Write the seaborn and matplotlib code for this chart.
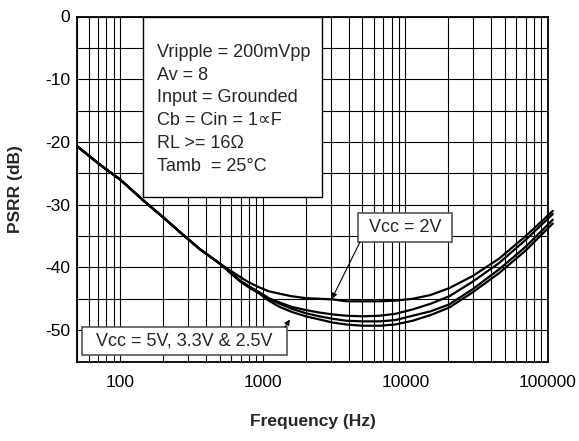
import matplotlib
matplotlib.use("Agg")
import matplotlib.pyplot as plt
import matplotlib.ticker as mticker
from matplotlib.patches import Rectangle
import numpy as np
import pandas as pd
import seaborn as sns

# ---------------- data ----------------
freq = [50, 70, 100, 150, 200, 263, 362, 500, 600, 690, 800, 950, 1100, 1315, 1600,
        2000, 2500, 3100, 3850, 5000, 6600, 8500, 11250, 15000, 20300, 29500,
        45400, 69800, 108000]
common = [-20.7, -23.4, -26.0, -29.6, -32.0, -34.4, -37.1, -39.4]
vcc_2v  = common + [-40.6, -41.5, -42.4, -43.2, -43.8, -44.2, -44.6,
                    -44.9, -45.0, -45.1, -45.4, -45.4, -45.4, -45.3, -45.0, -44.4,
                    -43.3, -41.4, -38.6, -35.0, -31.0]
vcc_5v  = common + [-40.9, -42.1, -43.0, -44.0, -44.9, -45.6, -46.3,
                    -46.8, -47.2, -47.5, -47.7, -47.8, -47.7, -47.4, -46.7, -45.8,
                    -44.6, -42.3, -39.3, -35.6, -31.5]
vcc_3v3 = common + [-40.9, -42.1, -43.1, -44.1, -45.0, -45.8, -46.6,
                    -47.3, -47.8, -48.2, -48.5, -48.6, -48.6, -48.4, -47.7, -47.0,
                    -45.9, -43.5, -40.3, -36.7, -32.4]
vcc_2v5 = common + [-41.0, -42.2, -43.2, -44.2, -45.3, -46.3, -47.1,
                    -47.8, -48.3, -48.8, -49.1, -49.3, -49.3, -49.1, -48.5, -47.6,
                    -46.4, -44.0, -40.9, -37.3, -33.0]
series_names = ["Vcc = 2V", "Vcc = 5V", "Vcc = 3.3V", "Vcc = 2.5V"]
series_vals = [vcc_2v, vcc_5v, vcc_3v3, vcc_2v5]

x_ticks = [100, 1000, 10000, 100000]
x_tick_labels = ["100", "1000", "10000", "100000"]
y_ticks = [0, -10, -20, -30, -40, -50]

info_lines = ["Vripple = 200mVpp", "Av = 8", "Input = Grounded",
              "Cb = Cin = 1\u221dF", "RL >= 16\u03a9", "Tamb  = 25\u00b0C"]

df = pd.DataFrame({
    "freq": np.tile(freq, len(series_names)),
    "psrr": np.concatenate(series_vals),
    "series": np.repeat(series_names, len(freq)),
})

# ---------------- style ----------------
sns.set_style("white")
plt.rcParams["font.family"] = ["Liberation Sans", "DejaVu Sans"]

W, H = 579, 441
fig = plt.figure(figsize=(W / 100, H / 100), dpi=100)
L, R, T, B = 77.3, 548.0, 16.5, 361.5
ax = fig.add_axes([L / W, 1 - B / H, (R - L) / W, (B - T) / H])

sns.lineplot(data=df, x="freq", y="psrr", hue="series",
             palette={n: "black" for n in series_names},
             estimator=None, sort=False, legend=False, lw=1.6, ax=ax,
             zorder=3, clip_on=False)

ax.set_xscale("log")
ax.set_xlim(50, 100000)
ax.set_ylim(-55, 0)
ax.set_xticks(x_ticks)
ax.set_xticklabels(x_tick_labels)
ax.xaxis.set_minor_locator(mticker.LogLocator(base=10, subs=np.arange(2, 10)))
ax.xaxis.set_minor_formatter(mticker.NullFormatter())
ax.set_yticks(y_ticks)
ax.set_yticklabels([str(v) for v in y_ticks])
ax.yaxis.set_minor_locator(mticker.MultipleLocator(5))

ax.grid(True, which="both", color="black", lw=0.8)
ax.set_axisbelow(True)
ax.tick_params(which="both", direction="in", length=4, width=1,
               labelsize=12.5, colors="black")
ax.tick_params(axis="x", pad=10)
ax.tick_params(axis="y", pad=5)
for s in ax.spines.values():
    s.set_color("black")
    s.set_linewidth(1.3)

ax.set_xlabel("Frequency (Hz)", fontsize=12.5, fontweight="bold", labelpad=17)
ax.set_ylabel("PSRR (dB)", fontsize=12.5, fontweight="bold", labelpad=16)

def ax_x(px):
    return (px - L) / (R - L)

def ax_y(py):
    return (B - py) / (B - T)

# info box
ax.add_patch(Rectangle((ax_x(143), ax_y(197)), ax_x(322) - ax_x(143),
                       ax_y(T) - ax_y(197), transform=ax.transAxes,
                       facecolor="white", edgecolor="black", lw=1.0, zorder=5))
baselines = [56.7, 79.5, 102.3, 125.1, 147.9, 170.7]
for txt, by in zip(info_lines, baselines):
    ax.text(ax_x(157), ax_y(by), txt, transform=ax.transAxes, fontsize=13,
            va="baseline", ha="left", zorder=6)

# Vcc = 2V label
ax.add_patch(Rectangle((ax_x(358), ax_y(242)), ax_x(452) - ax_x(358),
                       ax_y(213) - ax_y(242), transform=ax.transAxes,
                       facecolor="white", edgecolor="#555555", lw=1.2, zorder=5))
ax.text(ax_x(405), ax_y(227.5), "Vcc = 2V", transform=ax.transAxes, fontsize=13,
        ha="center", va="center", zorder=6)
ax.annotate("", xy=(3050, -45.0), xycoords="data",
            xytext=(ax_x(360), ax_y(242)), textcoords="axes fraction",
            arrowprops=dict(arrowstyle="-|>", color="black", lw=0.8,
                            mutation_scale=8, shrinkA=0, shrinkB=0), zorder=6)

# Vcc = 5V, 3.3V & 2.5V label
ax.add_patch(Rectangle((ax_x(81.7), ax_y(355)), ax_x(286.7) - ax_x(81.7),
                       ax_y(327.3) - ax_y(355), transform=ax.transAxes,
                       facecolor="white", edgecolor="#555555", lw=1.2, zorder=5))
ax.text(ax_x(184), ax_y(341.5), "Vcc = 5V, 3.3V & 2.5V", transform=ax.transAxes,
        fontsize=13, ha="center", va="center", zorder=6)
ax.annotate("", xy=(1545, -48.3), xycoords="data",
            xytext=(ax_x(285), ax_y(327.3)), textcoords="axes fraction",
            arrowprops=dict(arrowstyle="-|>", color="black", lw=0.8,
                            mutation_scale=8, shrinkA=0, shrinkB=0), zorder=6)

fig.savefig("out.png", dpi=100, facecolor="white")
